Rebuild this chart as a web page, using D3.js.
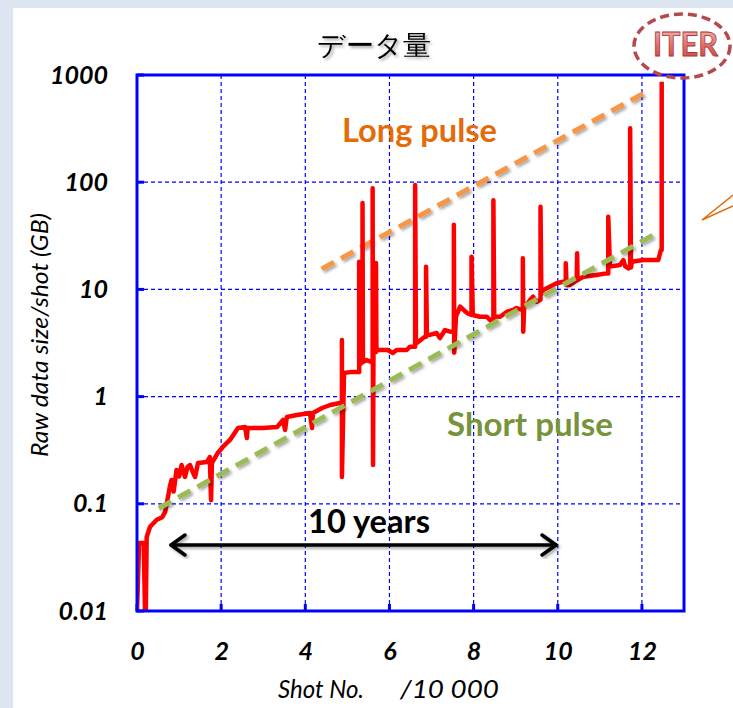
<!DOCTYPE html>
<html>
<head>
<meta charset="utf-8">
<script src="https://cdn.jsdelivr.net/npm/d3@7"></script>
<style>
  html, body { margin: 0; padding: 0; background: #dde6f1; }
  #chart { width: 733px; height: 708px; }
  text { font-family: "Lato", "Open Sans", sans-serif; }
</style>
</head>
<body>
<div id="chart"></div>
<script>

// shot number (x 10 000) and raw data size per shot (GB)
const shots = [
  0.00, 0.05, 0.11, 0.16, 0.19, 0.21, 0.23, 0.31, 0.47, 0.60, 0.67, 0.71, 0.78, 0.82, 0.87, 0.94,
  1.00, 1.06, 1.14, 1.20, 1.26, 1.32, 1.38, 1.45, 1.66, 1.73, 1.76, 1.78, 1.92, 2.04, 2.21, 2.40,
  2.57, 2.61, 2.63, 2.99, 3.33, 3.47, 3.52, 3.56, 3.80, 4.11, 4.16, 4.18, 4.40, 4.59, 4.82, 4.87,
  4.87, 4.87, 4.92, 5.10, 5.22, 5.28, 5.28, 5.30, 5.36, 5.36, 5.37, 5.46, 5.58, 5.60, 5.60, 5.61,
  5.62, 5.68, 5.68, 5.69, 5.77, 5.85, 5.96, 6.08, 6.17, 6.41, 6.49, 6.61, 6.61, 6.63, 6.65, 6.84,
  6.87, 6.87, 6.89, 6.96, 7.12, 7.20, 7.32, 7.44, 7.53, 7.53, 7.54, 7.58, 7.68, 7.84, 7.95, 7.95,
  7.98, 8.15, 8.31, 8.43, 8.47, 8.47, 8.49, 8.63, 8.79, 8.94, 9.02, 9.17, 9.17, 9.18, 9.20, 9.34,
  9.41, 9.50, 9.59, 9.59, 9.61, 9.66, 9.81, 9.97, 10.13, 10.19, 10.19, 10.21, 10.29, 10.45, 10.46, 10.47,
  10.61, 10.92, 11.16, 11.20, 11.20, 11.24, 11.48, 11.56, 11.60, 11.68, 11.72, 11.72, 11.74, 11.76, 12.03, 12.39,
  12.45, 12.47, 12.47
];
const sizes = [
  0.01, 0.043, 0.043, 0.043, 0.01, 0.01, 0.049, 0.061, 0.071, 0.075, 0.084, 0.102, 0.144, 0.167, 0.13, 0.207,
  0.18, 0.23, 0.178, 0.22, 0.23, 0.20, 0.178, 0.24, 0.245, 0.273, 0.108, 0.24, 0.298, 0.339, 0.394, 0.509,
  0.52, 0.411, 0.509, 0.509, 0.52, 0.605, 0.488, 0.645, 0.673, 0.703, 0.509, 0.703, 0.783, 0.835, 0.871, 0.871,
  3.37, 0.178, 1.66, 1.70, 1.70, 1.70, 18.1, 2.0, 2.1, 64, 2.1, 2.19, 2.10, 2.10, 88, 0.23,
  2.6, 2.6, 17.6, 2.7, 2.72, 2.72, 2.72, 2.55, 2.72, 2.72, 2.92, 2.92, 94, 3.16, 3.16, 3.62,
  3.62, 16.3, 3.76, 3.76, 3.92, 3.52, 4.18, 4.03, 4.1, 40, 2.57, 5.56, 6.90, 6.03, 5.77, 20.2,
  5.77, 5.56, 5.56, 5.00, 5.00, 68, 5.56, 5.56, 6.19, 6.42, 6.70, 6.42, 19.5, 4.03, 6.7, 7.96,
  8.55, 7.67, 8.0, 59, 9.0, 9.87, 10.6, 11.4, 11.8, 11.8, 17.5, 11.0, 11.0, 12.2, 21.7, 12.2,
  13.1, 13.6, 14.1, 14.1, 47.6, 16.3, 16.9, 18.8, 16.5, 15.7, 17, 318, 16, 18.1, 18.8, 18.8,
  23.3, 23.3, 866
];

// trend lines [shot, GB]
const longPulse = [[4.39, 15.5], [12.19, 725]];
const shortPulse = [[0.52, 0.091], [12.26, 32]];

const xTicks = [0, 2, 4, 6, 8, 10, 12];
const yTicks = [0.01, 0.1, 1, 10, 100, 1000];

const width = 733, height = 708;

const svg = d3.select("#chart").append("svg")
  .attr("width", width)
  .attr("height", height);

const defs = svg.append("defs");
defs.append("filter").attr("id", "shadow")
  .attr("x", "-20%").attr("y", "-20%").attr("width", "140%").attr("height", "140%")
  .append("feDropShadow")
  .attr("dx", 2).attr("dy", 2).attr("stdDeviation", 1.5)
  .attr("flood-color", "#000").attr("flood-opacity", 0.35);

const grad = defs.append("linearGradient").attr("id", "iterFill")
  .attr("x1", 0).attr("y1", 0).attr("x2", 0).attr("y2", 1);
grad.append("stop").attr("offset", "0%").attr("stop-color", "#f7c4c2");
grad.append("stop").attr("offset", "55%").attr("stop-color", "#e0706c");
grad.append("stop").attr("offset", "100%").attr("stop-color", "#c0403c");

defs.append("clipPath").attr("id", "plotClip")
  .append("rect").attr("x", 137).attr("y", 70).attr("width", 547).attr("height", 541);

// white panel over the light blue frame
svg.append("rect")
  .attr("x", 13).attr("y", 8)
  .attr("width", width - 13).attr("height", height - 8)
  .attr("fill", "#fff");

const x = d3.scaleLinear().domain([0, 13]).range([137, 684]);
const y = d3.scaleLog().domain([0.01, 1000]).range([611, 75]);

// grid
svg.append("g")
  .selectAll("line")
  .data(xTicks.filter(d => d > 0))
  .enter().append("line")
  .attr("x1", d => x(d)).attr("x2", d => x(d))
  .attr("y1", y(1000)).attr("y2", y(0.01))
  .attr("stroke", "#0000ff").attr("stroke-width", 1.2)
  .attr("stroke-dasharray", "4,3");

svg.append("g")
  .selectAll("line")
  .data(yTicks.filter(d => d > 0.01 && d < 1000))
  .enter().append("line")
  .attr("x1", x(0)).attr("x2", x(13))
  .attr("y1", d => y(d)).attr("y2", d => y(d))
  .attr("stroke", "#0000ff").attr("stroke-width", 1.2)
  .attr("stroke-dasharray", "4,3");

// small inward ticks
svg.append("g")
  .selectAll("line")
  .data(yTicks)
  .enter().append("line")
  .attr("x1", x(0)).attr("x2", x(0) + 7)
  .attr("y1", d => y(d)).attr("y2", d => y(d))
  .attr("stroke", "#0000ff").attr("stroke-width", 3);

svg.append("g")
  .selectAll("line")
  .data(xTicks)
  .enter().append("line")
  .attr("x1", d => x(d)).attr("x2", d => x(d))
  .attr("y1", y(0.01)).attr("y2", y(0.01) - 7)
  .attr("stroke", "#0000ff").attr("stroke-width", 3);

// trend lines
const trend = d3.line().x(d => x(d[0])).y(d => y(d[1]));

svg.append("path")
  .datum(longPulse)
  .attr("d", trend)
  .attr("fill", "none")
  .attr("stroke", "#f79646").attr("stroke-width", 5)
  .attr("stroke-dasharray", "14,8")
  .attr("filter", "url(#shadow)");

// data line
const series = shots.map((s, i) => ({shot: s, size: sizes[i]}));
svg.append("path")
  .datum(series)
  .attr("clip-path", "url(#plotClip)")
  .attr("d", d3.line().x(d => x(d.shot)).y(d => y(d.size)))
  .attr("fill", "none")
  .attr("stroke", "#ff0000")
  .attr("stroke-width", 4.5)
  .attr("stroke-linejoin", "round");

svg.append("path")
  .datum(shortPulse)
  .attr("d", trend)
  .attr("fill", "none")
  .attr("stroke", "#9bbb59").attr("stroke-width", 5)
  .attr("stroke-dasharray", "14,8")
  .attr("filter", "url(#shadow)");

// plot frame
svg.append("rect")
  .attr("x", x(0)).attr("y", y(1000))
  .attr("width", x(13) - x(0)).attr("height", y(0.01) - y(1000))
  .attr("fill", "none")
  .attr("stroke", "#0000ff").attr("stroke-width", 3);

// axes labels through d3 axes, domain hidden
const fmt = d => d >= 1 ? d3.format("d")(d) : String(d);

const yAxis = svg.append("g")
  .attr("transform", `translate(${x(0)},0)`)
  .call(d3.axisLeft(y).tickValues(yTicks).tickFormat(fmt).tickSize(0).tickPadding(29));
const xAxis = svg.append("g")
  .attr("transform", `translate(0,${y(0.01)})`)
  .call(d3.axisBottom(x).tickValues(xTicks).tickSize(0).tickPadding(31));

[yAxis, xAxis].forEach(function(g) {
  g.select(".domain").remove();
  g.selectAll("text")
    .attr("font-family", "Lato, 'Open Sans', sans-serif")
    .attr("font-size", 25)
    .attr("font-weight", "bold")
    .attr("font-style", "italic")
    .attr("fill", "#000");
});

// axis titles
svg.append("text")
  .attr("transform", "translate(48,335) rotate(-90)")
  .attr("text-anchor", "middle")
  .attr("font-size", 24)
  .attr("font-style", "italic")
  .attr("textLength", 244).attr("lengthAdjust", "spacingAndGlyphs")
  .text("Raw data size/shot (GB)");

svg.append("text")
  .attr("x", 278).attr("y", 698)
  .attr("font-size", 25)
  .attr("font-style", "italic")
  .attr("textLength", 86).attr("lengthAdjust", "spacingAndGlyphs")
  .text("Shot No.");

svg.append("text")
  .attr("x", 400).attr("y", 698)
  .attr("font-size", 25)
  .attr("font-style", "italic")
  .attr("textLength", 99).attr("lengthAdjust", "spacingAndGlyphs")
  .text("/10 000");

// title
svg.append("text")
  .attr("x", 374).attr("y", 55)
  .attr("text-anchor", "middle")
  .attr("font-family", "'Noto Sans CJK JP', sans-serif")
  .attr("font-size", 28).attr("font-weight", 500)
  .attr("filter", "url(#shadow)")
  .text("データ量");

// annotations
svg.append("text")
  .attr("x", 342).attr("y", 142)
  .attr("font-size", 33).attr("font-weight", "bold")
  .attr("textLength", 155).attr("lengthAdjust", "spacingAndGlyphs")
  .attr("fill", "#e36c09")
  .text("Long pulse");

svg.append("text")
  .attr("x", 447).attr("y", 436)
  .attr("font-size", 33).attr("font-weight", "bold")
  .attr("textLength", 166).attr("lengthAdjust", "spacingAndGlyphs")
  .attr("fill", "#77933c")
  .text("Short pulse");

svg.append("text")
  .attr("x", 308).attr("y", 533)
  .attr("font-size", 32).attr("font-weight", "bold")
  .attr("textLength", 122).attr("lengthAdjust", "spacingAndGlyphs")
  .attr("fill", "#000")
  .text("10 years");

// double arrow for the 10 years span
const arrowY = 545, ax1 = 171, ax2 = 556;
const arrow = svg.append("g")
  .attr("fill", "none").attr("stroke", "#000")
  .attr("stroke-width", 3.5).attr("stroke-linecap", "round").attr("stroke-linejoin", "round")
  .attr("filter", "url(#shadow)");
arrow.append("line").attr("x1", ax1).attr("x2", ax2).attr("y1", arrowY).attr("y2", arrowY);
arrow.append("path").attr("d", `M${ax1 + 14},${arrowY - 10} L${ax1},${arrowY} L${ax1 + 14},${arrowY + 10}`);
arrow.append("path").attr("d", `M${ax2 - 14},${arrowY - 10} L${ax2},${arrowY} L${ax2 - 14},${arrowY + 10}`);

// ITER badge
svg.append("ellipse")
  .attr("cx", 682).attr("cy", 46)
  .attr("rx", 48).attr("ry", 32)
  .attr("fill", "none")
  .attr("stroke", "#b5494b").attr("stroke-width", 3.5)
  .attr("stroke-dasharray", "9,5");

svg.append("text")
  .attr("x", 653).attr("y", 56)
  .attr("textLength", 65).attr("lengthAdjust", "spacingAndGlyphs")
  .attr("font-family", "'Liberation Sans Narrow', 'Liberation Sans', sans-serif")
  .attr("font-size", 32).attr("font-weight", "bold")
  .attr("fill", "url(#iterFill)")
  .attr("stroke", "#a33a38").attr("stroke-width", 0.8)
  .text("ITER");

// speech bubble tail at the right edge
svg.append("path")
  .attr("d", "M733,195 L702,220 L733,206")
  .attr("fill", "#fff")
  .attr("stroke", "#e36c09").attr("stroke-width", 1.5);

</script>
</body>
</html>
